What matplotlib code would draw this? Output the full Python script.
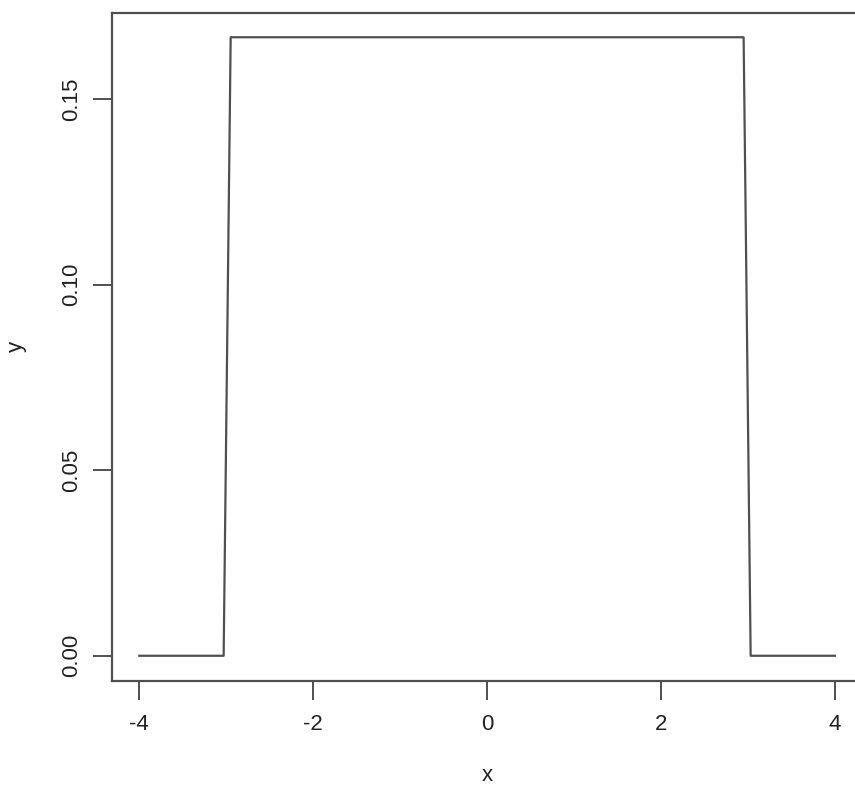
import matplotlib
matplotlib.use('Agg')
import matplotlib.pyplot as plt

# breakpoints of the plotted density curve
x = [-4.0, -3.0303, -2.9495, 2.9495, 3.0303, 4.0]
y = [0.0, 0.0, 1/6, 1/6, 0.0, 0.0]

xticks = [-4, -2, 0, 2, 4]
yticks = [0.00, 0.05, 0.10, 0.15]
ytick_labels = ['0.00', '0.05', '0.10', '0.15']

plt.rcParams['font.family'] = ['Liberation Sans', 'DejaVu Sans']
plt.rcParams['axes.unicode_minus'] = False

W, H = 855, 787
fig = plt.figure(figsize=(W/100, H/100), dpi=100)
left, right, top, bottom = 111.5, 862.8, 12.5, 680.5
ax = fig.add_axes([left/W, 1 - bottom/H, (right-left)/W, (bottom-top)/H])

col = '#505050'
ax.plot(x, y, color=col, linewidth=1.6)

ax.set_xlim(-4.32, 4.32)
ax.set_ylim(-1/6*0.04, 1/6*1.04)
ax.set_xticks(xticks)
ax.set_yticks(yticks)
ax.set_yticklabels(ytick_labels, rotation=90, va='center')
for s in ax.spines.values():
    s.set_color(col)
    s.set_linewidth(1.6)
ax.tick_params(direction='out', length=14, width=1.4, color=col,
               labelsize=16, pad=10, labelcolor='#222222')
ax.tick_params(axis='y', pad=7)
ax.set_xlabel('x', fontsize=16, labelpad=22, color='#222222')
ax.set_ylabel('y', fontsize=16, labelpad=25, color='#222222')

fig.savefig('out.png', dpi=100)
